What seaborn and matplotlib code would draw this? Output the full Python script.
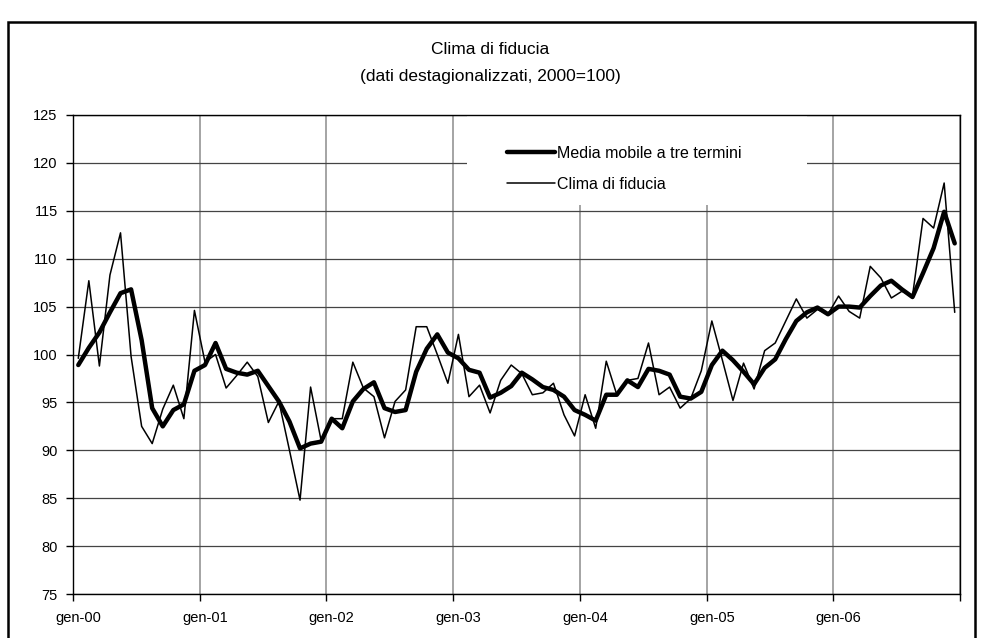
import matplotlib
matplotlib.use("Agg")

import matplotlib.pyplot as plt
import numpy as np
import pandas as pd
import seaborn as sns
from matplotlib.patches import Rectangle

# Clima di fiducia, dati mensili gen-00 .. dic-06
clima = [
    99.6, 107.7, 98.8, 108.3, 112.7, 99.8, 92.5, 90.7, 94.3, 96.8, 93.3, 104.6,
    99.2, 100.0, 96.5, 97.8, 99.2, 97.7, 92.9, 95.1, 90.0, 84.8, 96.6, 91.0,
    93.3, 93.3, 99.2, 96.5, 95.6, 91.3, 95.1, 96.3, 102.9, 102.9, 100.0, 97.0,
    102.1, 95.6, 96.8, 93.9, 97.3, 98.9, 98.0, 95.8, 96.0, 97.0, 93.7, 91.5,
    95.8, 92.3, 99.3, 95.8, 97.3, 97.5, 101.2, 95.8, 96.6, 94.4, 95.4, 98.3,
    103.5, 99.4, 95.2, 99.1, 96.4, 100.4, 101.2, 103.5, 105.8, 103.8, 104.7, 104.2,
    106.1, 104.5, 103.8, 109.2, 108.0, 105.9, 106.6, 106.1, 114.2, 113.2, 117.9, 104.4,
]

media_mobile = [
    98.9, 100.7, 102.3, 104.4, 106.4, 106.8, 101.5, 94.4, 92.5, 94.2, 94.8, 98.3,
    98.9, 101.2, 98.5, 98.1, 97.9, 98.3, 96.7, 95.1, 93.0, 90.2, 90.7, 90.9,
    93.3, 92.3, 95.1, 96.4, 97.1, 94.4, 94.0, 94.2, 98.2, 100.6, 102.1, 100.2,
    99.6, 98.4, 98.1, 95.5, 96.0, 96.7, 98.1, 97.4, 96.6, 96.3, 95.6, 94.2,
    93.7, 93.1, 95.8, 95.8, 97.3, 96.6, 98.5, 98.3, 97.9, 95.6, 95.4, 96.1,
    98.9, 100.4, 99.4, 98.2, 96.9, 98.6, 99.5, 101.6, 103.5, 104.4, 104.9, 104.2,
    105.0, 105.0, 104.9, 106.1, 107.2, 107.7, 106.8, 106.0, 108.5, 111.1, 114.9, 111.6,
]

etichette_anni = ["gen-00", "gen-01", "gen-02", "gen-03", "gen-04", "gen-05", "gen-06"]
y_ticks = [75, 80, 85, 90, 95, 100, 105, 110, 115, 120, 125]

sns.set_style("white")
plt.rcParams["font.family"] = ["Liberation Sans", "DejaVu Sans"]

n = len(clima)
df = pd.DataFrame({"mese": np.arange(n), "clima": clima, "media": media_mobile})

fig = plt.figure(figsize=(9.81, 6.38), dpi=100)
ax = fig.add_axes([73 / 981, 1 - 594 / 638, (960 - 73) / 981, (594 - 115) / 638])
ax.set_axisbelow(True)

sns.lineplot(data=df, x="mese", y="media", ax=ax, color="black", linewidth=3.2,
             label="Media mobile a tre termini", zorder=3)
sns.lineplot(data=df, x="mese", y="clima", ax=ax, color="black", linewidth=1.1,
             label="Clima di fiducia", zorder=4)

ax.set_xlim(-0.5, n - 0.5)
ax.set_ylim(75, 125)
ax.set_yticks(y_ticks)
ax.set_xticks(np.arange(-0.5, n, 12))
ax.set_xticklabels([""] * len(np.arange(-0.5, n, 12)))
ax.set_xticks(np.arange(0, n, 12), minor=True)
ax.set_xticklabels(etichette_anni, minor=True)
ax.set_xlabel("")
ax.set_ylabel("")

ax.tick_params(axis="y", left=True, length=5, width=1, color="black",
               labelsize=10.5, labelcolor="black", pad=6)
ax.tick_params(axis="x", which="major", bottom=True, length=5, width=1, color="black")
ax.tick_params(axis="x", which="minor", bottom=True, length=0,
               labelsize=10.5, labelcolor="black", pad=12)

ax.grid(True, axis="y", color="#444444", linewidth=0.9)
ax.grid(True, axis="x", which="major", color="#8c8c8c", linewidth=1.1)

for lato, sp in ax.spines.items():
    sp.set_visible(True)
    sp.set_color("black")
    sp.set_linewidth(1.0)

# fondo bianco della legenda sopra la griglia
ax.add_patch(Rectangle((467 / 981, 1 - 205 / 638), 340 / 981, 89 / 638,
                       transform=fig.transFigure, facecolor="white",
                       edgecolor="none", zorder=1))

leg = ax.legend(loc="center left", bbox_to_anchor=(507 / 981, 1 - 169 / 638),
                bbox_transform=fig.transFigure, frameon=False, fontsize=11.5,
                borderpad=0, borderaxespad=0, handlelength=3.0,
                handletextpad=0.15, labelspacing=1.0)
for testo in leg.get_texts():
    testo.set_color("black")

fig.text(490 / 981, 1 - 50 / 638, "Clima di fiducia", ha="center", va="center",
         fontsize=12.5, color="black")
fig.text(490 / 981, 1 - 77 / 638, "(dati destagionalizzati, 2000=100)",
         ha="center", va="center", fontsize=12.5, color="black")

# cornice esterna del grafico
fig.patches.append(Rectangle((8 / 981, -0.02), (975 - 8) / 981, 1 - 22 / 638 + 0.02,
                             transform=fig.transFigure, fill=False,
                             edgecolor="black", linewidth=1.8))

fig.savefig("out.png", dpi=100)
plt.close(fig)
